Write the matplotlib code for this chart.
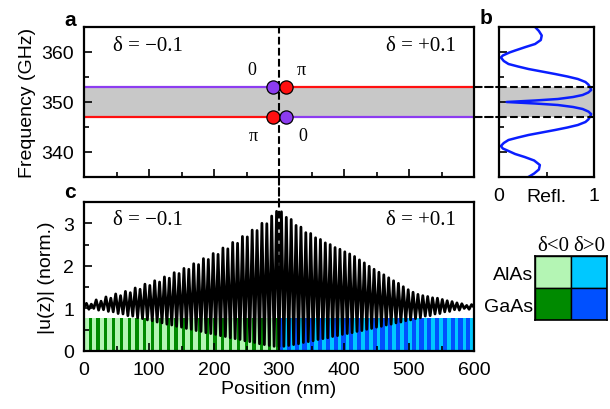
import numpy as np
import matplotlib
matplotlib.use("Agg")
import matplotlib.pyplot as plt
from matplotlib.patches import ConnectionPatch, Rectangle
from matplotlib.ticker import MultipleLocator

plt.rcParams["font.family"] = ["Liberation Sans", "DejaVu Sans"]
SERIF = ["Liberation Serif", "DejaVu Serif"]

# --- band edges of the two mirrors (GHz) and interface position (nm)
F_UP, F_LO = 353.0, 347.0
Z_IF = 300.0
DOT_Z = [291.0, 311.0]

# --- reflectance of the structure (freq GHz, R)
REFL_F = [365.0, 364.2, 363.3, 362.4, 361.6, 361.0, 360.3, 359.9, 359.3, 358.9,
          358.2, 357.6, 357.1, 356.6, 356.1, 355.6, 355.1, 354.6, 354.0, 353.5,
          352.9, 352.4, 351.9, 351.4, 351.0, 350.6, 350.3, 350.0, 349.7, 349.4,
          349.0, 348.6, 348.1, 347.6, 347.1, 346.5, 346.0, 345.4, 344.9, 344.4,
          343.9, 343.4, 342.9, 342.4, 341.8, 341.2, 340.7, 340.2, 339.6, 339.0,
          338.3, 337.4, 336.5, 335.7, 335.0]
REFL_R = [0.38, 0.42, 0.45, 0.44, 0.38, 0.28, 0.17, 0.11, 0.04, 0.02,
          0.05, 0.10, 0.20, 0.31, 0.45, 0.59, 0.72, 0.83, 0.91, 0.94,
          0.96, 0.97, 0.94, 0.88, 0.78, 0.62, 0.38, 0.08, 0.38, 0.62,
          0.78, 0.88, 0.94, 0.97, 0.96, 0.94, 0.91, 0.83, 0.72, 0.59,
          0.45, 0.31, 0.20, 0.10, 0.05, 0.02, 0.04, 0.10, 0.17, 0.27,
          0.37, 0.43, 0.42, 0.37, 0.31]

# --- |u(z)| : successive maxima and minima, one oscillation every 7.5 nm
OSC_NM = 7.5
U_PEAKS = [1.12, 1.10, 1.20, 1.17, 1.27, 1.24, 1.34, 1.30, 1.40, 1.37,
           1.48, 1.45, 1.57, 1.54, 1.65, 1.62, 1.74, 1.71, 1.84, 1.82,
           1.94, 1.92, 2.05, 2.03, 2.17, 2.15, 2.29, 2.27, 2.42, 2.40,
           2.55, 2.53, 2.69, 2.68, 2.84, 2.83, 3.00, 2.99, 3.17, 3.28,
           3.27, 3.14, 3.09, 2.95, 2.91, 2.78, 2.76, 2.66, 2.62, 2.54,
           2.50, 2.43, 2.39, 2.33, 2.28, 2.22, 2.14, 2.07, 1.99, 1.92,
           1.85, 1.79, 1.72, 1.65, 1.59, 1.51, 1.44, 1.38, 1.33, 1.30,
           1.28, 1.25, 1.24, 1.21, 1.18, 1.16, 1.13, 1.11, 1.07, 1.09]
U_TROUGHS = [1.03, 0.98, 1.00, 0.96, 0.97, 0.93, 0.92, 0.88, 0.87, 0.83,
             0.82, 0.78, 0.76, 0.73, 0.71, 0.68, 0.66, 0.63, 0.61, 0.58,
             0.56, 0.53, 0.51, 0.48, 0.46, 0.43, 0.41, 0.39, 0.36, 0.34,
             0.31, 0.29, 0.27, 0.24, 0.22, 0.20, 0.17, 0.15, 0.13, 0.11,
             0.10,
             0.11, 0.13, 0.15, 0.17, 0.20, 0.22, 0.24, 0.27, 0.29, 0.31,
             0.34, 0.36, 0.39, 0.41, 0.43, 0.46, 0.48, 0.51, 0.53, 0.56,
             0.58, 0.61, 0.63, 0.66, 0.68, 0.71, 0.73, 0.76, 0.78, 0.82,
             0.83, 0.87, 0.88, 0.92, 0.93, 0.97, 0.96, 1.00, 0.98, 1.03]

# --- superlattice: 25 pairs on each side of the interface (nm)
N_PAIRS = 25
D_NEG = {"AlAs": 7.2, "GaAs": 4.8}   # delta < 0
D_POS = {"GaAs": 6.6, "AlAs": 5.4}   # delta > 0

COLORS = {("AlAs", "neg"): "#b4f5b4", ("GaAs", "neg"): "#008a00",
          ("AlAs", "pos"): "#00c8ff", ("GaAs", "pos"): "#0050ff"}
PURPLE, RED, GREY, BLUE = "#8c3cf0", "#ff1010", "#c8c8c8", "#0a1eff"
LAYER_H = 0.78

W, H = 610, 410
fig = plt.figure(figsize=(W / 100, H / 100), dpi=100)


def rect(l, t, r, b):
    return [l / W, 1 - b / H, (r - l) / W, (b - t) / H]


ax_a = fig.add_axes(rect(84, 28, 474, 178))
ax_b = fig.add_axes(rect(499, 28, 594, 178))
ax_c = fig.add_axes(rect(84, 203, 474, 352))
ax_k = fig.add_axes(rect(535, 257, 607, 321))

for ax in (ax_a, ax_b, ax_c):
    for s in ax.spines.values():
        s.set_linewidth(1.6)
    ax.tick_params(which="both", direction="in", width=1.2, labelsize=14,
                   top=False, right=False)
    ax.tick_params(which="major", length=6, pad=7)
    ax.tick_params(which="minor", length=3.5)

# ---------------- panel a
ax_a.set_xlim(0, 600)
ax_a.set_ylim(335, 365)
ax_a.fill_between([0, 600], F_LO, F_UP, color=GREY, lw=0, zorder=1)
ax_a.plot([0, Z_IF], [F_UP, F_UP], color=PURPLE, lw=1.6, zorder=2)
ax_a.plot([0, Z_IF], [F_LO, F_LO], color=RED, lw=1.6, zorder=2)
ax_a.plot([Z_IF, 600], [F_UP, F_UP], color=RED, lw=1.6, zorder=2)
ax_a.plot([Z_IF, 600], [F_LO, F_LO], color=PURPLE, lw=1.6, zorder=2)
ax_a.axvline(Z_IF, color="k", ls="--", lw=1.5, zorder=3)
for z, cu, cl in [(DOT_Z[0], PURPLE, RED), (DOT_Z[1], RED, PURPLE)]:
    ax_a.plot(z, F_UP, "o", ms=9.5, mfc=cu, mec="k", mew=0.9, zorder=4)
    ax_a.plot(z, F_LO, "o", ms=9.5, mfc=cl, mec="k", mew=0.9, zorder=4)
ax_a.text(258, 356.4, "0", family=SERIF, fontsize=13, ha="center", va="center")
ax_a.text(335, 356.4, "π", family=SERIF, fontsize=13, ha="center", va="center")
ax_a.text(260, 343.2, "π", family=SERIF, fontsize=13, ha="center", va="center")
ax_a.text(337, 343.2, "0", family=SERIF, fontsize=13, ha="center", va="center")
ax_a.text(98, 361.2, "δ = −0.1", family=SERIF, fontsize=15, ha="center", va="center")
ax_a.text(572, 361.2, "δ = +0.1", family=SERIF, fontsize=15, ha="right", va="center")
ax_a.set_yticks([340, 350, 360])
ax_a.yaxis.set_minor_locator(MultipleLocator(5))
ax_a.xaxis.set_major_locator(MultipleLocator(100))
ax_a.xaxis.set_minor_locator(MultipleLocator(50))
ax_a.tick_params(axis="x", labelbottom=False)
ax_a.set_ylabel("Frequency (GHz)", fontsize=14, labelpad=4)

# ---------------- panel b
ax_b.set_xlim(0, 1)
ax_b.set_ylim(335, 365)
ax_b.axhspan(F_LO, F_UP, color=GREY, lw=0, zorder=1)
ax_b.plot(REFL_R, REFL_F, color=BLUE, lw=1.8, zorder=2)
ax_b.axhline(F_UP, color="k", ls="--", lw=1.5, zorder=3)
ax_b.axhline(F_LO, color="k", ls="--", lw=1.5, zorder=3)
ax_b.set_xticks([0, 1])
ax_b.set_xticklabels(["0", "1"])
ax_b.xaxis.set_minor_locator(MultipleLocator(0.5))
ax_b.set_yticks([340, 350, 360])
ax_b.yaxis.set_minor_locator(MultipleLocator(5))
ax_b.tick_params(axis="y", labelleft=False)
ax_b.set_xlabel("Refl.", fontsize=14, labelpad=-11.5)

for f in (F_UP, F_LO):
    fig.add_artist(ConnectionPatch(xyA=(600, f), coordsA=ax_a.transData,
                                   xyB=(0, f), coordsB=ax_b.transData,
                                   color="k", ls="--", lw=1.5))
fig.add_artist(ConnectionPatch(xyA=(Z_IF, 335), coordsA=ax_a.transData,
                               xyB=(Z_IF, 3.5), coordsB=ax_c.transData,
                               color="k", ls="--", lw=1.5))

# ---------------- panel c
ax_c.set_xlim(0, 600)
ax_c.set_ylim(0, 3.5)


def layer_stack(start, d, side, order):
    mats = order * N_PAIRS
    widths = np.array([d[m] for m in mats])
    lefts = start + np.concatenate([[0], np.cumsum(widths)[:-1]])
    cols = [COLORS[(m, side)] for m in mats]
    ax_c.bar(lefts, LAYER_H, width=widths, align="edge", color=cols,
             lw=0, zorder=1)


layer_stack(0.0, D_NEG, "neg", ["AlAs", "GaAs"])
layer_stack(Z_IF, D_POS, "pos", ["GaAs", "AlAs"])
ax_c.axvline(Z_IF, color="k", ls="--", lw=1.5, zorder=1.5)

z_tr = np.arange(len(U_TROUGHS)) * OSC_NM
z_pk = z_tr[:-1] + OSC_NM / 2
z_u = np.empty(len(z_tr) + len(z_pk))
u = np.empty_like(z_u)
z_u[0::2], z_u[1::2] = z_tr, z_pk
u[0::2], u[1::2] = U_TROUGHS, U_PEAKS
ax_c.plot(z_u, u, color="k", lw=2.0, zorder=2, solid_joinstyle="round")

ax_c.text(98, 3.1, "δ = −0.1", family=SERIF, fontsize=15, ha="center", va="center")
ax_c.text(572, 3.1, "δ = +0.1", family=SERIF, fontsize=15, ha="right", va="center")
ax_c.xaxis.set_major_locator(MultipleLocator(100))
ax_c.xaxis.set_minor_locator(MultipleLocator(50))
ax_c.yaxis.set_major_locator(MultipleLocator(1))
ax_c.yaxis.set_minor_locator(MultipleLocator(0.5))
ax_c.set_xlabel("Position (nm)", fontsize=14, labelpad=2)
ax_c.set_ylabel("|u(z)| (norm.)", fontsize=14, labelpad=6)

# ---------------- material key
rows, cols = ["AlAs", "GaAs"], ["neg", "pos"]
for i, m in enumerate(rows):
    for j, s in enumerate(cols):
        ax_k.add_patch(Rectangle((j, i), 1, 1, facecolor=COLORS[(m, s)],
                                 edgecolor="k", lw=1.0))
ax_k.set_xlim(0, 2)
ax_k.set_ylim(2, 0)
ax_k.set_xticks([0.5, 1.5])
ax_k.set_xticklabels(["δ<0", "δ>0"], family=SERIF, fontsize=15)
ax_k.set_yticks([0.5, 1.5])
ax_k.set_yticklabels(rows, fontsize=14)
ax_k.tick_params(length=0, pad=1, top=True, bottom=False,
                 labeltop=True, labelbottom=False)
for s in ax_k.spines.values():
    s.set_linewidth(1.2)

fig.text(70 / W, 1 - 20 / H, "a", fontsize=15, fontweight="bold", ha="center", va="center")
fig.text(486 / W, 1 - 18 / H, "b", fontsize=15, fontweight="bold", ha="center", va="center")
fig.text(70 / W, 1 - 193 / H, "c", fontsize=15, fontweight="bold", ha="center", va="center")

fig.savefig("out.png", dpi=100)
